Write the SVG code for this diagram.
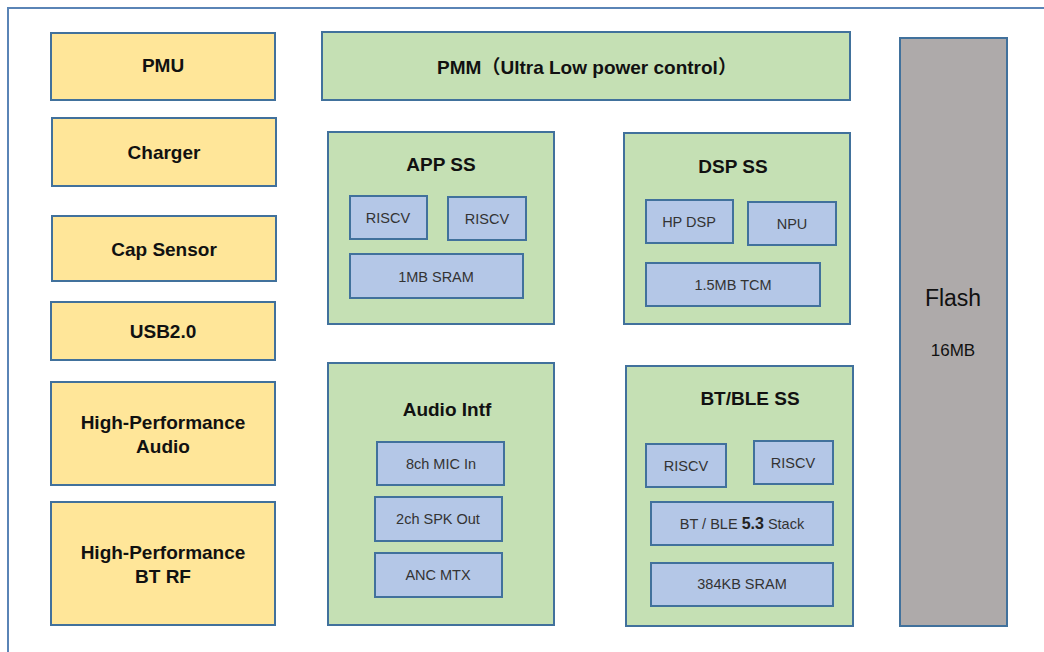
<svg xmlns="http://www.w3.org/2000/svg" width="1044" height="652" viewBox="0 0 1044 652">
<style>
  .frame{fill:none;stroke:#5A84B6;stroke-width:2}
  .y{fill:#FFE699;stroke:#41719C;stroke-width:2}
  .g{fill:#C5E0B4;stroke:#41719C;stroke-width:2}
  .b{fill:#B4C7E7;stroke:#41719C;stroke-width:2}
  .f{fill:#AEAAAA;stroke:#41719C;stroke-width:2}
  text{font-family:"Liberation Sans","Noto Sans CJK SC",sans-serif;text-anchor:middle;fill:#111}
  .t{font-size:19px;font-weight:bold}
  .s{font-size:14.5px;fill:#333}
</style>
<rect x="0" y="0" width="1044" height="652" fill="#ffffff"/>
<path class="frame" d="M1046 8 H8 V654"/>
<g id="connectors"/>
<g id="pmu"><rect class="y" x="51" y="33" width="224" height="67"/><text class="t" x="163" y="72">PMU</text></g>
<g id="charger"><rect class="y" x="52" y="118" width="224" height="68"/><text class="t" x="164" y="159">Charger</text></g>
<g id="cap-sensor"><rect class="y" x="52" y="216" width="224" height="65"/><text class="t" x="164" y="256">Cap Sensor</text></g>
<g id="usb"><rect class="y" x="51" y="302" width="224" height="58"/><text class="t" x="163" y="338">USB2.0</text></g>
<g id="hp-audio"><rect class="y" x="51" y="382" width="224" height="103"/><text class="t" x="163" y="429">High-Performance</text><text class="t" x="163" y="453">Audio</text></g>
<g id="hp-btrf"><rect class="y" x="51" y="502" width="224" height="123"/><text class="t" x="163" y="559">High-Performance</text><text class="t" x="163" y="583">BT RF</text></g>
<g id="pmm"><rect class="g" x="322" y="32" width="528" height="68"/><text class="t" x="587" y="74">PMM（Ultra Low power control）</text></g>
<g id="app-ss"><rect class="g" x="328" y="132" width="226" height="192"/><text class="t" x="441" y="171">APP SS</text>
  <g id="app-riscv1"><rect class="b" x="350" y="196" width="77" height="43"/><text class="s" x="388" y="223">RISCV</text></g>
  <g id="app-riscv2"><rect class="b" x="448" y="197" width="78" height="43"/><text class="s" x="487" y="224">RISCV</text></g>
  <g id="app-sram"><rect class="b" x="350" y="254" width="173" height="44"/><text class="s" x="436" y="282">1MB SRAM</text></g>
</g>
<g id="dsp-ss"><rect class="g" x="624" y="133" width="226" height="191"/><text class="t" x="733" y="173">DSP SS</text>
  <g id="hp-dsp"><rect class="b" x="646" y="200" width="87" height="43"/><text class="s" x="689" y="227">HP DSP</text></g>
  <g id="npu"><rect class="b" x="748" y="202" width="88" height="43"/><text class="s" x="792" y="229">NPU</text></g>
  <g id="tcm"><rect class="b" x="646" y="263" width="174" height="43"/><text class="s" x="733" y="290">1.5MB TCM</text></g>
</g>
<g id="audio-intf"><rect class="g" x="328" y="363" width="226" height="262"/><text class="t" x="447" y="416">Audio Intf</text>
  <g id="mic"><rect class="b" x="377" y="442" width="127" height="43"/><text class="s" x="441" y="469">8ch MIC In</text></g>
  <g id="spk"><rect class="b" x="375" y="497" width="127" height="44"/><text class="s" x="438" y="524">2ch SPK Out</text></g>
  <g id="anc"><rect class="b" x="375" y="553" width="127" height="44"/><text class="s" x="438" y="580">ANC MTX</text></g>
</g>
<g id="bt-ss"><rect class="g" x="626" y="366" width="227" height="260"/><text class="t" x="750" y="405">BT/BLE SS</text>
  <g id="bt-riscv1"><rect class="b" x="646" y="444" width="80" height="43"/><text class="s" x="686" y="471">RISCV</text></g>
  <g id="bt-riscv2"><rect class="b" x="754" y="441" width="79" height="43"/><text class="s" x="793" y="468">RISCV</text></g>
  <g id="bt-stack"><rect class="b" x="651" y="502" width="182" height="43"/><text class="s" x="742" y="529">BT / BLE <tspan font-size="16" font-weight="bold" fill="#222">5.3</tspan> Stack</text></g>
  <g id="bt-sram"><rect class="b" x="651" y="563" width="182" height="43"/><text class="s" x="742" y="589">384KB SRAM</text></g>
</g>
<g id="flash"><rect class="f" x="900" y="38" width="107" height="588"/><text x="953" y="306" font-size="23" fill="#222">Flash</text><text x="953" y="356" font-size="17" fill="#222">16MB</text></g>
</svg>
